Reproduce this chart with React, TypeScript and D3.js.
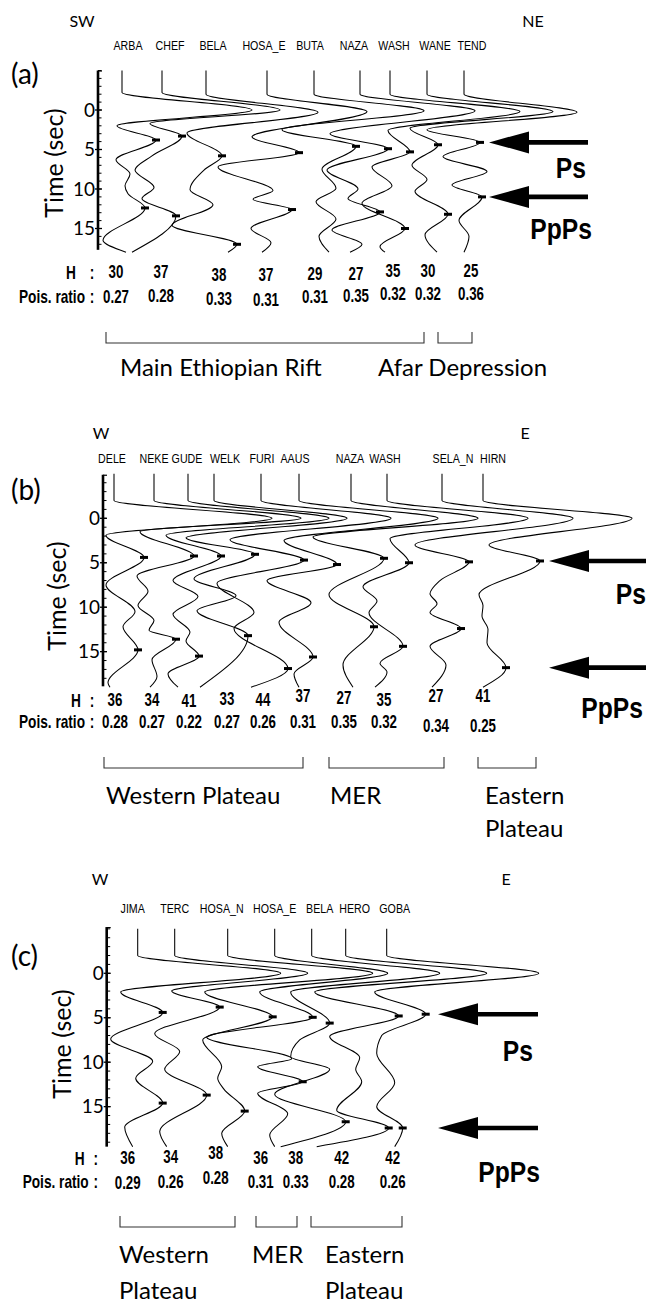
import React from "react";
import * as d3 from "d3";

type Pt = [number, number]; // [time (s), amplitude]

// ---------- panel (a): SW - NE profile ----------
const stationsA = ["ARBA", "CHEF", "BELA", "HOSA_E", "BUTA", "NAZA", "WASH", "WANE", "TEND"];
const posA = [24, 64, 108, 169, 216, 262, 292, 329, 366];
const tracesA: Pt[][] = [
  [[-5, 0], [-2.2, 0], [0, 1.3], [2.0, -0.05], [3.8, 0.34], [6.3, -0.06], [8.1, 0.08], [9.6, 0.03], [10.6, 0.06], [12.4, 0.23], [16.5, -0.19], [18, 0.04]],
  [[-5, 0], [-2.2, 0], [0, 1.18], [1.7, -0.12], [3.3, 0.2], [5.8, -0.1], [7.6, -0.27], [9.8, -0.08], [11.2, -0.2], [13.4, 0.14], [18, -0.3]],
  [[-5, 0], [-2, 0], [0.3, 1.12], [2.9, -0.19], [5.8, 0.16], [7.6, -0.02], [10.1, -0.16], [12, 0.07], [14.6, -0.34], [17, 0.31], [18, 0.22]],
  [[-5, 0], [-2, 0], [0.2, 1.0], [3.4, -0.15], [5.4, 0.32], [7.2, -0.49], [10.2, 0.06], [11.3, -0.14], [12.6, 0.25], [15, -0.16], [16.8, 0.04], [18, -0.05]],
  [[-5, 0], [-2, 0], [0.1, 1.1], [2.5, -0.32], [4.6, 0.42], [7.5, 0.08], [9.9, 0.22], [11.6, 0.02], [13.8, 0.22], [16, 0.05], [18, 0.15]],
  [[-5, 0], [-2, 0], [0.1, 1.15], [3.0, -0.3], [4.9, 0.28], [7.6, -0.33], [10, -0.02], [11.2, -0.12], [12.9, 0.2], [15.2, -0.28], [17, 0.02], [18, -0.1]],
  [[-5, 0], [-2, 0], [0.2, 1.3], [2.6, -0.02], [5.3, 0.2], [7.2, -0.18], [9.6, 0.02], [11.8, -0.28], [15, 0.15], [17.3, -0.1], [18, -0.05]],
  [[-5, 0], [-2, 0], [0.2, 1.26], [2.3, -0.17], [4.4, 0.11], [7.0, -0.15], [8.8, 0.0], [10.3, -0.12], [13.2, 0.21], [15.8, -0.02], [18, 0.1]],
  [[-5, 0], [-2, 0], [0.3, 1.13], [2.5, -0.37], [4.1, 0.16], [5.9, -0.21], [7.8, 0.23], [9.5, -0.12], [11, 0.18], [14, -0.05], [16, 0.05], [18, 0.0]],
];
const psA = [3.8, 3.3, 5.8, 5.4, 4.6, 4.9, 5.3, 4.4, 4.1];
const ppsA = [12.4, 13.4, 17, 12.6, null, 12.9, 15, 13.2, 11];
const hA = ["30", "37", "38", "37", "29", "27", "35", "30", "25"];
const poisA = ["0.27", "0.28", "0.33", "0.31", "0.31", "0.35", "0.32", "0.32", "0.36"];
const groupsA = [["Main Ethiopian Rift"], ["Afar Depression"]];

// ---------- panel (b): W - E profile ----------
const stationsB = ["DELE", "NEKE", "GUDE", "WELK", "FURI", "AAUS", "NAZA", "WASH", "SELA_N", "HIRN"];
const posB = [11, 51, 85, 111, 158, 196, 248, 284, 339, 380];
const tracesB: Pt[][] = [
  [[-5, 0], [-2, 0], [0, 1.58], [1.9, -0.08], [4.4, 0.3], [7.5, -0.08], [10.5, 0.21], [12.2, 0.09], [14.8, 0.24], [18.5, -0.06], [19, -0.04]],
  [[-5, 0], [-2, 0], [0, 1.47], [1.5, -0.14], [4.24, 0.4], [6.5, -0.17], [8.2, -0.06], [9.8, -0.16], [11.5, 0.0], [12.6, -0.05], [13.6, 0.22], [15.9, -0.02], [17.8, 0.03], [19, -0.04]],
  [[-5, 0], [-2, 0], [0, 1.41], [1.9, -0.22], [4.24, 0.33], [7.0, -0.15], [8.8, 0.1], [10.8, -0.15], [12.8, 0.02], [13.8, -0.02], [15.5, 0.11], [17.5, -0.2], [19, -0.1]],
  [[-5, 0], [-2, 0], [0, 1.33], [2.2, -0.28], [4.05, 0.41], [6.8, -0.2], [8.7, 0.22], [10.4, -0.17], [13.2, 0.34], [19, -0.14]],
  [[-5, 0], [-2, 0], [0, 1.3], [2.4, -0.31], [4.7, 0.43], [7.3, -0.44], [10.6, -0.07], [12.4, -0.27], [16.9, 0.27], [19, -0.1]],
  [[-5, 0], [-2, 0], [0, 1.39], [2.5, -0.15], [5.2, 0.38], [7.0, -0.32], [9.5, 0.12], [11.7, -0.2], [15.6, 0.14], [17.5, -0.05], [19, 0.0]],
  [[-5, 0], [-2, 0], [0, 1.27], [2.1, -0.38], [4.5, 0.33], [8.6, -0.22], [12.2, 0.23], [16.5, -0.08], [19, 0.02]],
  [[-5, 0], [-2, 0], [0, 1.41], [2.3, 0.03], [5.0, 0.22], [7.7, -0.24], [9.3, -0.1], [10.6, -0.18], [14.4, 0.16], [16.3, -0.07], [17.3, 0.0], [19, -0.12]],
  [[-5, 0], [-2, 0], [0, 1.31], [3.0, -0.27], [4.9, 0.27], [7.0, -0.02], [8.5, -0.12], [9.6, -0.05], [10.6, -0.12], [12.4, 0.19], [14.4, -0.12], [16.5, 0.04], [19, -0.1]],
  [[-5, 0], [-2, 0], [0, 1.49], [3.0, 0.06], [4.8, 0.57], [8.6, -0.04], [9.8, 0.0], [11, -0.01], [12.5, 0.05], [14, 0.04], [16.8, 0.23], [19, 0.0]],
];
const psB = [4.4, 4.24, 4.24, 4.05, 4.7, 5.2, 4.5, 5.0, 4.9, 4.8];
const ppsB = [14.8, 13.6, 15.5, 13.2, 16.9, 15.6, 12.2, 14.4, 12.4, 16.8];
const hB = ["36", "34", "41", "33", "44", "37", "27", "35", "27", "41"];
const poisB = ["0.28", "0.27", "0.22", "0.27", "0.26", "0.31", "0.35", "0.32", "0.34", "0.25"];
const groupsB = [["Western Plateau"], ["MER"], ["Eastern", "Plateau"]];

// ---------- panel (c): W - E profile ----------
const stationsC = ["JIMA", "TERC", "HOSA_N", "HOSA_E", "BELA", "HERO", "GOBA"];
const posC = [31, 68, 121, 168, 205, 239, 280];
const tracesC: Pt[][] = [
  [[-5, 0], [-2, 0], [0, 1.43], [2.1, -0.17], [4.4, 0.25], [7.4, -0.27], [9.9, 0.15], [11.8, -0.02], [14.6, 0.25], [17.3, -0.13], [19.5, -0.05]],
  [[-5, 0], [-2, 0], [0, 1.33], [2.0, -0.03], [3.8, 0.45], [6.8, -0.2], [8.8, 0.05], [10.8, -0.1], [13.7, 0.32], [17.8, -0.15], [19.5, -0.08]],
  [[-5, 0], [-2, 0], [0, 1.45], [2.1, -0.23], [4.9, 0.45], [7.5, -0.25], [10.5, -0.06], [11.8, -0.1], [13, -0.04], [15.5, 0.17], [18, -0.06], [19.5, 0.0]],
  [[-5, 0], [-2, 0], [0, 1.13], [2.1, -0.15], [4.95, 0.38], [7.2, -0.68], [9.6, 0.17], [10.5, -0.17], [12.2, 0.28], [13.5, -0.17], [15.8, 0.13], [18.2, -0.05], [19.5, 0.0]],
  [[-5, 0], [-2, 0], [0, 1.28], [2.1, -0.21], [5.6, 0.18], [7.5, -0.12], [9.4, -0.21], [10.8, 0.18], [13.6, -0.37], [16.7, 0.34], [19.5, -0.31]],
  [[-5, 0], [-2, 0], [0, 1.41], [2.1, -0.31], [4.8, 0.53], [7.1, -0.16], [9.5, 0.14], [10.8, 0.1], [12.2, 0.16], [15.4, -0.09], [17.4, 0.43], [19.5, -0.29]],
  [[-5, 0], [-2, 0], [0, 1.52], [2.1, -0.12], [4.6, 0.39], [7.0, -0.05], [9.0, -0.1], [12.3, 0.08], [15, -0.1], [17.4, 0.16], [19.5, 0.08]],
];
const psC = [4.4, 3.8, 4.9, 4.95, 5.6, 4.8, 4.6];
const ppsC = [14.6, 13.7, 15.5, 12.2, 16.7, 17.4, 17.4];
const hC = ["36", "34", "38", "36", "38", "42", "42"];
const poisC = ["0.29", "0.26", "0.28", "0.31", "0.33", "0.28", "0.26"];
const groupsC = [["Western", "Plateau"], ["MER"], ["Eastern", "Plateau"]];

const timeTicks = [0, 5, 10, 15];

const HUMAN = "Lato, 'Open Sans', sans-serif";
const ARIAL = "'Liberation Sans', Arial, sans-serif";

const panels = [
  {
    letter: "(a)", letterY: 84, dirs: ["SW", "NE"], dirX: [82, 533], dirY: 27, labelY: 50,
    labelDx: [6, 8, 7, -3, -4, -6, 4, 8, 8],
    axisX: 98, y0: 110, pps: 7.9, tMin: -5, tMax: 17.7, timeX: 63, timeY: 163,
    hY: 278, poisY: 303, colonDx: 6,
    valDx: [-6, -1, 13, -1, 1, -4, 3, 1, 7],
    hDy: [0, 0, 3, 3, 2, 2, -1, -1, -1], poisDy: [0, -1, 2, 3, 0, -1, -3, -3, -3],
    bracketY: 343, groupY: 376, lineH: 33,
    brackets: [[106, 424], [438, 472]], groupX: [120, 378],
    arrowTip: 489, arrowEnd: 588, psText: [586, 178], ppsText: [592, 239],
    stations: stationsA, pos: posA, traces: tracesA, ps: psA, pps2: ppsA, h: hA, pois: poisA, groups: groupsA,
  },
  {
    letter: "(b)", letterY: 500, dirs: ["W", "E"], dirX: [101, 525], dirY: 439, labelY: 463,
    labelDx: [-2, 0, -1, 11, 1, -4, -1, -2, 11, 10],
    axisX: 103, y0: 518.3, pps: 8.89, tMin: -4.9, tMax: 18.9, timeX: 66, timeY: 596,
    hY: 706, poisY: 728, colonDx: 11,
    valDx: [1, -2, 1, 13, 2, 4, -7, -3, -6, 0],
    hDy: [0, 0, 1, -1, 0, -4, -2, 0, -4, -4], poisDy: [0, 0, 0, 0, 0, 0, 0, 0, 4, 4],
    bracketY: 768, groupY: 804, lineH: 33,
    brackets: [[104, 303], [329, 444], [478, 536]], groupX: [106, 330, 485],
    arrowTip: 549, arrowEnd: 646, psText: [646, 604], ppsText: [643, 718],
    stations: stationsB, pos: posB, traces: tracesB, ps: psB, pps2: ppsB, h: hB, pois: poisB, groups: groupsB,
  },
  {
    letter: "(c)", letterY: 966, dirs: ["W", "E"], dirX: [100, 506], dirY: 885, labelY: 913,
    labelDx: [-5, 0, -6, 0, 8, 9, 8],
    axisX: 106.7, y0: 973.3, pps: 8.89, tMin: -5.2, tMax: 19.5, timeX: 71, timeY: 1044,
    hY: 1164, poisY: 1188, colonDx: 11,
    valDx: [-10, -4, -12, -14, -16, -4, 6],
    hDy: [0, -1, -5, 0, 0, 0, 0], poisDy: [1, 0, -4, 0, 0, 0, 0],
    bracketY: 1227, groupY: 1263, lineH: 36,
    brackets: [[120, 235], [256, 297], [311, 402]], groupX: [119, 252, 325],
    arrowTip: 438, arrowEnd: 538, psText: [533, 1061], ppsText: [540, 1182],
    stations: stationsC, pos: posC, traces: tracesC, ps: psC, pps2: ppsC, h: hC, pois: poisC, groups: groupsC,
  },
];

// narrow (condensed) text: Arial metrics squeezed horizontally
function CText({ x, y, sx = 0.8, size, bold, anchor = "middle", children }: any) {
  return (
    <text
      transform={`translate(${x},${y}) scale(${sx},1)`}
      fontFamily={ARIAL}
      fontSize={size}
      fontWeight={bold ? "bold" : "normal"}
      textAnchor={anchor}
    >
      {children}
    </text>
  );
}

function Arrow({ tip, end, y }: { tip: number; end: number; y: number }) {
  const head = 40, half = 11, shaft = 2.3;
  const d = `M${tip},${y} L${tip + head},${y - half} L${tip + head},${y - shaft} L${end},${y - shaft} L${end},${y + shaft} L${tip + head},${y + shaft} L${tip + head},${y + half} Z`;
  return <path d={d} fill="#000" />;
}

function Panel({ p }: { p: any }) {
  const y = d3.scaleLinear().domain([0, 5]).range([p.y0, p.y0 + 5 * p.pps]);
  const x = d3.scaleLinear().domain([0, 100]).range([p.axisX, p.axisX + 100]);
  const amp = d3.scaleLinear().domain([0, 1]).range([0, 100]);

  const minor = d3.range(Math.ceil(p.tMin), Math.floor(p.tMax) + 1);
  const last = p.traces.length - 1;
  const markAt = (tr: Pt[], t: number | null) => (t == null ? null : tr.find((d) => d[0] === t));

  return (
    <g>
      {/* direction and panel letter */}
      <text x={p.dirX[0]} y={p.dirY} fontFamily={HUMAN} fontSize={16} textAnchor="middle">{p.dirs[0]}</text>
      <text x={p.dirX[1]} y={p.dirY} fontFamily={HUMAN} fontSize={16} textAnchor="middle">{p.dirs[1]}</text>
      <text x={11} y={p.letterY} fontFamily={HUMAN} fontSize={28}>{p.letter}</text>

      {/* time axis */}
      <line x1={p.axisX} x2={p.axisX} y1={y(p.tMin)} y2={y(p.tMax)} stroke="#000" strokeWidth={2.6} />
      {minor.map((t: number) => (
        <line key={t} x1={p.axisX} x2={p.axisX + 3.5} y1={y(t)} y2={y(t)} stroke="#000" strokeWidth={1} />
      ))}
      <line x1={p.axisX} x2={p.axisX + 4} y1={y(p.tMin) + 0.5} y2={y(p.tMin) + 0.5} stroke="#000" strokeWidth={1.2} />
      {timeTicks.map((t) => (
        <g key={t}>
          <line x1={p.axisX - 3} x2={p.axisX + 4} y1={y(t)} y2={y(t)} stroke="#000" strokeWidth={1.3} />
          <text x={p.axisX - 3} y={y(t) + 6.5} fontFamily={HUMAN} fontSize={19} textAnchor="end">{t}</text>
        </g>
      ))}
      <text transform={`translate(${p.timeX},${p.timeY}) rotate(-90)`} fontFamily={HUMAN} fontSize={25} textAnchor="middle">Time (sec)</text>

      {/* traces */}
      {p.traces.map((tr: Pt[], i: number) => {
        const base = x(p.pos[i]);
        const line = d3.line<Pt>().x((d) => base + amp(d[1])).y((d) => y(d[0])).curve(d3.curveMonotoneY);
        const marks = [markAt(tr, p.ps[i]), markAt(tr, p.pps2[i])].filter(Boolean) as Pt[];
        return (
          <g key={i}>
            <CText x={base + p.labelDx[i]} y={p.labelY} size={13} sx={0.82}>{p.stations[i]}</CText>
            <path d={line(tr) || ""} fill="none" stroke="#000" strokeWidth={1.05} />
            {marks.map((m, k) => (
              <rect key={k} x={base + amp(m[1]) - 4} y={y(m[0]) - 1.5} width={8} height={3} fill="#000" />
            ))}
            <CText x={base + p.valDx[i]} y={p.hY + p.hDy[i]} size={18} bold sx={0.74}>{p.h[i]}</CText>
            <CText x={base + p.valDx[i]} y={p.poisY + p.poisDy[i]} size={18} bold sx={0.74}>{p.pois[i]}</CText>
          </g>
        );
      })}

      {/* row labels */}
      <CText x={p.axisX - 27} y={p.hY + 1} size={18} bold sx={0.76}>H</CText>
      <CText x={p.axisX - p.colonDx} y={p.hY + 1} size={18} bold sx={0.76}>:</CText>
      <CText x={p.axisX - p.colonDx - 7} y={p.poisY} size={18} bold sx={0.76} anchor="end">Pois. ratio</CText>
      <CText x={p.axisX - p.colonDx} y={p.poisY} size={18} bold sx={0.76}>:</CText>

      {/* arrows at the last station's Ps and PpPs */}
      <Arrow tip={p.arrowTip} end={p.arrowEnd} y={y(p.ps[last])} />
      <Arrow tip={p.arrowTip} end={p.arrowEnd} y={y(p.pps2[last])} />
      <CText x={p.psText[0]} y={p.psText[1]} size={29} bold sx={0.85} anchor="end">Ps</CText>
      <CText x={p.ppsText[0]} y={p.ppsText[1]} size={29} bold sx={0.85} anchor="end">PpPs</CText>

      {/* region brackets */}
      {p.brackets.map((b: number[], i: number) => (
        <g key={i}>
          <path d={`M${b[0]},${p.bracketY - 11}V${p.bracketY}H${b[1]}V${p.bracketY - 11}`} fill="none" stroke="#333" strokeWidth={1.1} />
          {p.groups[i].map((s: string, k: number) => (
            <text key={k} x={p.groupX[i]} y={p.groupY + k * p.lineH} fontFamily={HUMAN} fontSize={24}>{s}</text>
          ))}
        </g>
      ))}
    </g>
  );
}

export default function App() {
  return (
    <svg width={646} height={1304} style={{ position: "absolute", left: 0, top: 0, background: "#fff" }}>
      <rect width={646} height={1304} fill="#fff" />
      {panels.map((p, i) => (
        <Panel key={i} p={p} />
      ))}
    </svg>
  );
}
